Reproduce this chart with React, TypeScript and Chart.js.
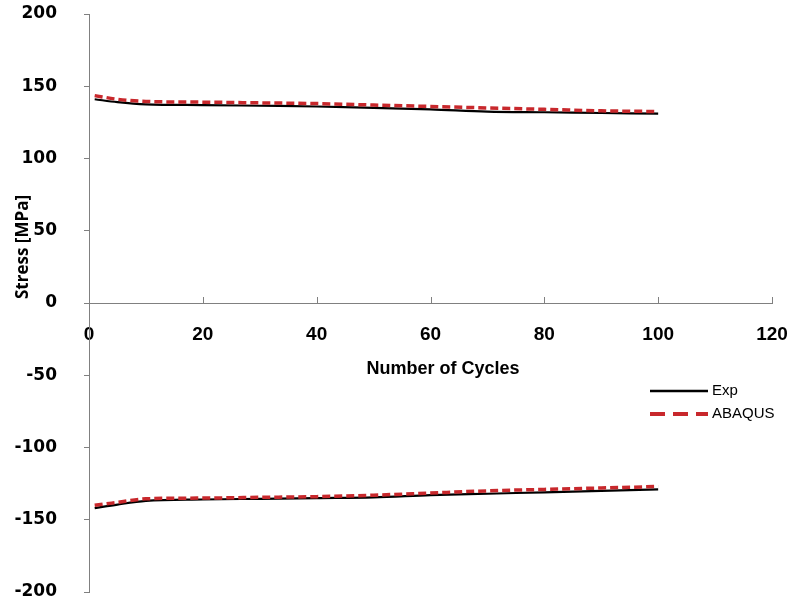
import React, { useEffect, useRef } from 'react';
import { Chart, registerables } from 'chart.js';

Chart.register(...registerables);

// ---- data ----
const cycles = [1, 5, 10, 20, 30, 40, 50, 60, 70, 80, 90, 100];
const expUpper = [141, 139, 137.5, 137, 136.5, 136, 135, 134, 132.5, 132, 131.5, 131];
const abaqusUpper = [143.5, 141, 139.5, 139, 138.5, 138, 137, 136, 135, 134, 133, 132.5];
const expLower = [-142, -139.5, -137, -136, -135.5, -135, -134.5, -133, -132, -131, -130, -129];
const abaqusLower = [-140, -138, -135.5, -135, -134.5, -134, -133, -131.5, -130, -129, -128, -127];

const xTicks = [0, 20, 40, 60, 80, 100, 120];
const yTicks = [-200, -150, -100, -50, 0, 50, 100, 150, 200];
const seriesNames = ['Exp', 'ABAQUS'];
const xTitle = 'Number of Cycles';
const yTitle = 'Stress [MPa]';

const BLACK = '#000000';
const RED = '#C8282C';
const AXIS = '#808080';

const toPoints = (ys: number[]) => cycles.map((c, i) => ({ x: c, y: ys[i] }));

const overlay = {
  id: 'overlay',
  afterDraw(chart: any) {
    const ctx = chart.ctx;
    const xs = chart.scales.x;
    const ys = chart.scales.y;
    const y0 = ys.getPixelForValue(0);
    ctx.save();
    // upward tick marks on x axis
    ctx.strokeStyle = AXIS;
    ctx.lineWidth = 1;
    for (const v of xTicks) {
      const px = Math.round(xs.getPixelForValue(v)) + 0.5;
      ctx.beginPath();
      ctx.moveTo(px, Math.round(y0));
      ctx.lineTo(px, Math.round(y0) - 6);
      ctx.stroke();
    }
    // axis titles
    ctx.fillStyle = '#000';
    ctx.font = 'bold 18px "Liberation Sans", Arial, sans-serif';
    ctx.textAlign = 'center';
    ctx.textBaseline = 'middle';
    ctx.fillText(xTitle, 443, 369);

    ctx.save();
    ctx.translate(23, 247);
    ctx.rotate(-Math.PI / 2);
    ctx.font = 'bold 17px "Open Sans", sans-serif';
    ctx.fillText(yTitle, 0, 0);
    ctx.restore();

    // legend
    ctx.font = '15px "Liberation Sans", Arial, sans-serif';
    ctx.textAlign = 'left';
    ctx.strokeStyle = BLACK;
    ctx.lineWidth = 2.5;
    ctx.beginPath();
    ctx.moveTo(650, 391);
    ctx.lineTo(708, 391);
    ctx.stroke();
    ctx.fillText(seriesNames[0], 712, 391);

    ctx.strokeStyle = RED;
    ctx.lineWidth = 4;
    ctx.setLineDash([15, 8]);
    ctx.beginPath();
    ctx.moveTo(650, 414);
    ctx.lineTo(708, 414);
    ctx.stroke();
    ctx.setLineDash([]);
    ctx.fillText(seriesNames[1], 712, 414);
    ctx.restore();
  },
};

export default function App() {
  const ref = useRef<HTMLCanvasElement>(null);
  useEffect(() => {
    if (!ref.current) return;
    const expStyle = {
      borderColor: BLACK,
      backgroundColor: BLACK,
      borderWidth: 2.2,
      pointRadius: 0,
      cubicInterpolationMode: 'monotone' as const,
      order: 1,
    };
    const abqStyle = {
      borderColor: RED,
      backgroundColor: RED,
      borderWidth: 3.5,
      borderDash: [8, 4],
      pointRadius: 0,
      cubicInterpolationMode: 'monotone' as const,
      order: 0,
    };
    const chart = new Chart(ref.current, {
      type: 'line',
      data: {
        datasets: [
          { label: seriesNames[0], data: toPoints(expUpper), ...expStyle },
          { label: seriesNames[1], data: toPoints(abaqusUpper), ...abqStyle },
          { label: seriesNames[0] + ' ', data: toPoints(expLower), ...expStyle },
          { label: seriesNames[1] + ' ', data: toPoints(abaqusLower), ...abqStyle },
        ],
      },
      options: {
        animation: false,
        responsive: true,
        maintainAspectRatio: false,
        layout: { padding: { top: 14, right: 20, bottom: 12, left: 0 } },
        plugins: { legend: { display: false }, tooltip: { enabled: false } },
        scales: {
          x: {
            type: 'linear',
            min: 0,
            max: 120,
            position: { y: 0 },
            afterBuildTicks: (s: any) => {
              s.ticks = xTicks.map((v) => ({ value: v }));
            },
            afterFit: (s: any) => {
              s.height = 0;
              s.paddingLeft = 0;
              s.paddingRight = 0;
            },
            grid: { display: true, drawOnChartArea: false, drawTicks: false },
            border: { display: true, color: AXIS, width: 1 },
            ticks: {
              color: '#000',
              font: { family: '"Liberation Sans", Arial, sans-serif', size: 19, weight: 'bold' },
              padding: 20,
              maxRotation: 0,
              autoSkip: false,
            },
          },
          y: {
            type: 'linear',
            min: -200,
            max: 200,
            afterBuildTicks: (s: any) => {
              s.ticks = yTicks.map((v) => ({ value: v }));
            },
            afterFit: (s: any) => {
              s.width = 89;
              s.paddingTop = 0;
              s.paddingBottom = 0;
            },
            grid: { display: true, drawOnChartArea: false, drawTicks: true, tickLength: 5, color: AXIS },
            border: { display: true, color: AXIS, width: 1 },
            ticks: {
              color: '#000',
              font: { family: '"DejaVu Sans", sans-serif', size: 17, weight: 'bold' },
              padding: 27,
              autoSkip: false,
            },
          },
        },
      },
      plugins: [overlay],
    });
    return () => chart.destroy();
  }, []);
  return (
    <div style={{ position: 'fixed', left: 0, top: 0, width: 792, height: 604, background: '#fff' }}>
      <canvas ref={ref} />
    </div>
  );
}
